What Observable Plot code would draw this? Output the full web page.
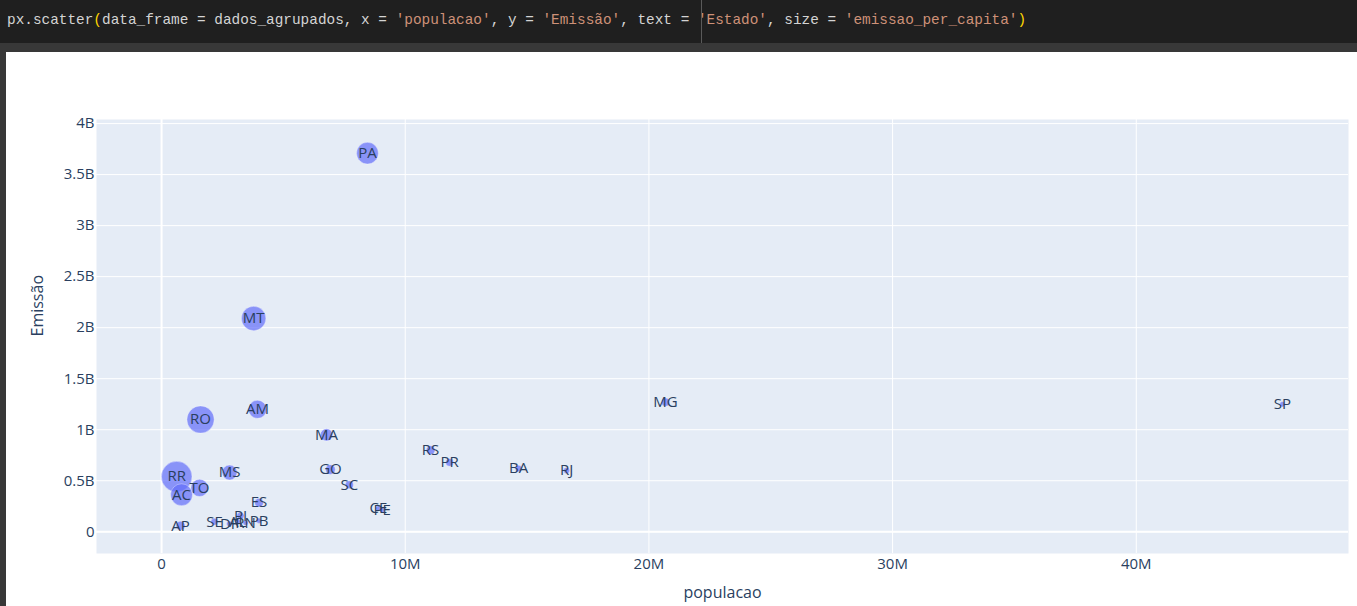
<!DOCTYPE html>
<html>
<head>
<meta charset="utf-8">
<script src="https://cdn.jsdelivr.net/npm/d3@7"></script>
<script src="https://cdn.jsdelivr.net/npm/@observablehq/plot@0.6"></script>
<style>
  html, body { margin: 0; padding: 0; width: 1357px; height: 606px; overflow: hidden; background: #383838; }
  #code { position: absolute; left: 0; top: 0; width: 1357px; height: 43px; background: #1f1f1f;
          font-family: "Liberation Mono", "DejaVu Sans Mono", monospace; font-size: 14.4px; color: #d4d4d4;
          white-space: pre; line-height: 40px; padding-left: 7px; box-sizing: border-box; }
  #code .s { color: #ce9178; }
  #code .b { color: #ffd700; }
  #cursor { position: absolute; left: 701px; top: 0; width: 1px; height: 43px; background: #5a5a5a; }
  #out { position: absolute; left: 6px; top: 52px; width: 1351px; height: 554px; background: #ffffff; }
  #out svg { display: block; }
</style>
</head>
<body>
<div id="code">px.scatter<span class="b">(</span>data_frame = dados_agrupados, x = <span class="s">'populacao'</span>, y = <span class="s">'Emissão'</span>, text = <span class="s">'Estado'</span>, size = <span class="s">'emissao_per_capita'</span><span class="b">)</span></div>
<div id="cursor"></div>
<div id="out"></div>
<script>
// Data (estimates)
const estados   = ["AC","AL","AM","AP","BA","CE","DF","ES","GO","MA","MG","MS","MT","PA","PB","PE","PI","PR","RJ","RN","RO","RR","RS","SC","SE","SP","TO"];
const populacao = [0.82e6,3.12e6,3.94e6,0.78e6,14.65e6,8.9e6,2.78e6,4.0e6,6.93e6,6.77e6,20.68e6,2.79e6,3.78e6,8.45e6,4.0e6,9.05e6,3.24e6,11.82e6,16.62e6,3.45e6,1.6e6,0.62e6,11.04e6,7.71e6,2.17e6,46.0e6,1.56e6];
const emissao   = [0.363e9,0.098e9,1.20e9,0.059e9,0.62e9,0.23e9,0.078e9,0.285e9,0.61e9,0.95e9,1.27e9,0.58e9,2.09e9,3.71e9,0.108e9,0.21e9,0.157e9,0.68e9,0.60e9,0.088e9,1.10e9,0.54e9,0.80e9,0.46e9,0.098e9,1.25e9,0.43e9];
const emissaoPerCapita = [443,31,305,76,42,26,28,71,88,140,61,208,553,439,27,23,48,58,36,26,688,870,72,60,45,27,276];

const xTicks = [0, 10e6, 20e6, 30e6, 40e6];
const xTickLabels = ["0", "10M", "20M", "30M", "40M"];
const yTicks = [0, 0.5e9, 1e9, 1.5e9, 2e9, 2.5e9, 3e9, 3.5e9, 4e9];
const yTickLabels = ["0", "0.5B", "1B", "1.5B", "2B", "2.5B", "3B", "3.5B", "4B"];

const data = estados.map((e, i) => ({
  Estado: e, populacao: populacao[i], Emissao: emissao[i], emissao_per_capita: emissaoPerCapita[i]
}));

const ink = "#2a3f5f";
const chart = Plot.plot({
  width: 1351,
  height: 554,
  marginLeft: 90,
  marginRight: 9,
  marginTop: 67,
  marginBottom: 53,
  style: { fontFamily: "'Open Sans', sans-serif", fontSize: "15px", color: ink, background: "#ffffff" },
  x: { domain: [-2.67e6, 48.71e6], ticks: xTicks, tickFormat: d => xTickLabels[xTicks.indexOf(d)],
       tickSize: 0, tickPadding: 5, label: null },
  y: { domain: [-0.213e9, 4.04e9], ticks: yTicks, tickFormat: d => yTickLabels[yTicks.indexOf(d)],
       tickSize: 0, tickPadding: 2, label: null },
  r: { type: "sqrt", domain: [0, 870], range: [0, 15.3] },
  marks: [
    Plot.frame({ fill: "#e5ecf6", stroke: "none" }),
    Plot.gridX(xTicks, { stroke: "#ffffff", strokeOpacity: 1, strokeWidth: 1 }),
    Plot.gridY(yTicks, { stroke: "#ffffff", strokeOpacity: 1, strokeWidth: 1 }),
    Plot.ruleX([0], { stroke: "#ffffff", strokeWidth: 2 }),
    Plot.ruleY([0], { stroke: "#ffffff", strokeWidth: 2 }),
    Plot.dot(data, { x: "populacao", y: "Emissao", r: "emissao_per_capita",
                     fill: "#636efa", fillOpacity: 0.7, stroke: "#ffffff", strokeWidth: 0.5, strokeOpacity: 0.7 }),
    Plot.text(data, { x: "populacao", y: "Emissao", text: "Estado", fill: ink, fontSize: 15 }),
    Plot.text(["Emissão"], { frameAnchor: "left", dx: -59, rotate: -90, fill: ink, fontSize: 16 }),
    Plot.text(["populacao"], { frameAnchor: "bottom", dy: 44, fill: ink, fontSize: 16 })
  ]
});
document.getElementById("out").appendChild(chart);
</script>
</body>
</html>
